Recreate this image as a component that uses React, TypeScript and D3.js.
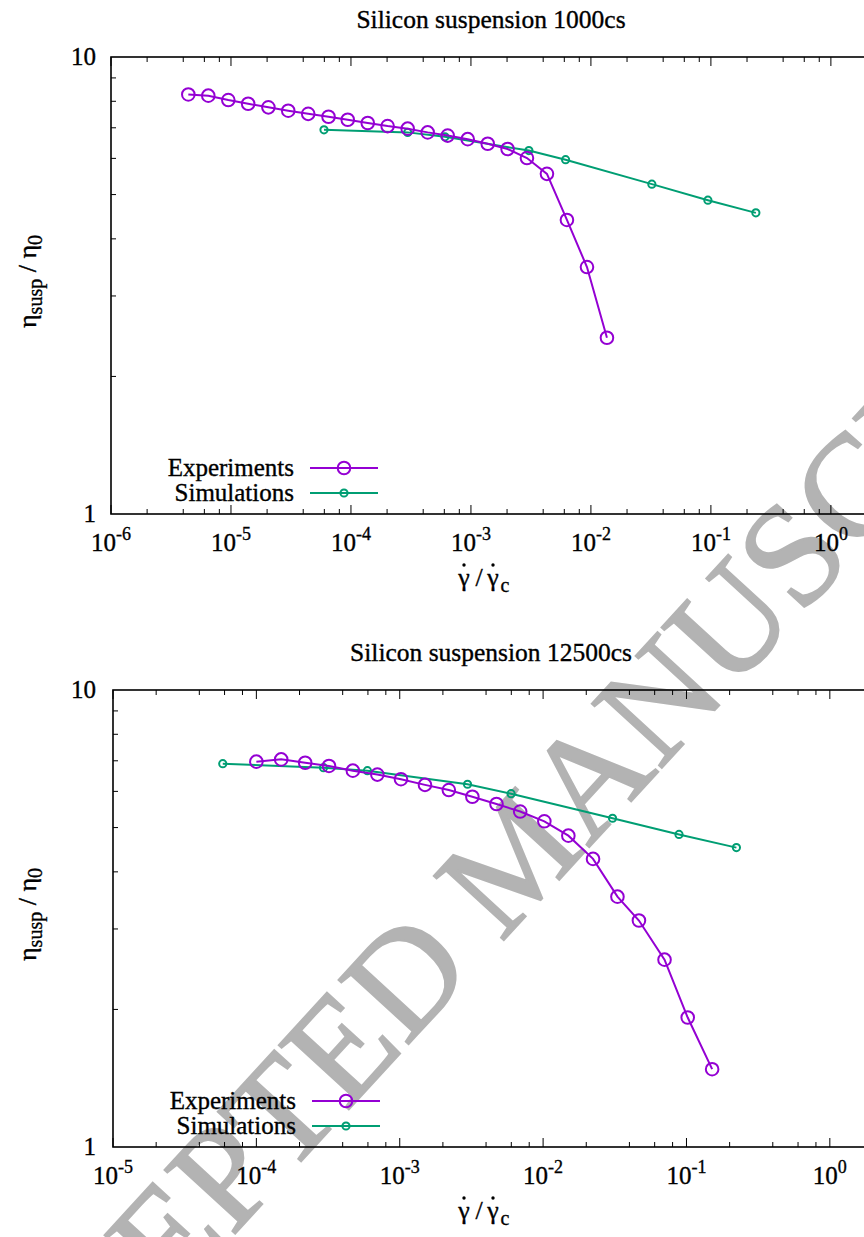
import React from "react";
import * as d3 from "d3";

// Silicon suspension 1000cs
const expX1 = [4.41e-6, 6.47e-6, 9.5e-6, 1.39e-5, 2.05e-5, 3.0e-5, 4.4e-5, 6.5e-5, 9.4e-5, 1.38e-4, 2.02e-4, 2.97e-4, 4.36e-4, 6.4e-4, 9.4e-4, 1.38e-3, 2.02e-3, 2.93e-3, 4.3e-3, 6.31e-3, 9.27e-3, 1.36e-2];
const expY1 = [8.28, 8.23, 8.05, 7.9, 7.76, 7.63, 7.51, 7.4, 7.29, 7.17, 7.06, 6.97, 6.84, 6.73, 6.61, 6.46, 6.29, 6.01, 5.55, 4.4, 3.47, 2.43];
const simX1 = [5.96e-5, 2.97e-4, 6.07e-4, 3.04e-3, 6.15e-3, 3.22e-2, 9.44e-2, 0.237];
const simY1 = [6.93, 6.84, 6.69, 6.24, 5.96, 5.27, 4.86, 4.56];

// Silicon suspension 12500cs
const expX2 = [1.0e-4, 1.49e-4, 2.19e-4, 3.21e-4, 4.71e-4, 6.98e-4, 1.02e-3, 1.5e-3, 2.2e-3, 3.21e-3, 4.73e-3, 6.92e-3, 1.02e-2, 1.5e-2, 2.23e-2, 3.3e-2, 4.66e-2, 7.03e-2, 0.102, 0.151];
const expY2 = [6.97, 7.05, 6.93, 6.82, 6.66, 6.53, 6.38, 6.2, 6.04, 5.84, 5.63, 5.42, 5.16, 4.8, 4.27, 3.53, 3.13, 2.57, 1.92, 1.48];
const simX2 = [5.83e-5, 2.94e-4, 5.95e-4, 2.97e-3, 5.98e-3, 3.05e-2, 8.87e-2, 0.223];
const simY2 = [6.9, 6.76, 6.66, 6.22, 5.93, 5.24, 4.83, 4.52];

const xExp1 = [-6, -5, -4, -3, -2, -1, 0];
const xExp2 = [-5, -4, -3, -2, -1, 0];
const yTickLabels = [1, 10];
const legendLabels = ["Experiments", "Simulations"];

const PURPLE = "#9400d3";
const GREEN = "#009e73";
const FONT = "Liberation Serif";

const panels = [
  { title: "Silicon suspension 1000cs", left: 111, top: 57, width: 756, xDomain: [1e-6, 2], xExp: xExp1, expX: expX1, expY: expY1, simX: simX1, simY: simY1 },
  { title: "Silicon suspension 12500cs", left: 113, top: 690, width: 760, xDomain: [1e-5, 2], xExp: xExp2, expX: expX2, expY: expY2, simX: simX2, simY: simY2 },
];

const plotH = 457;
// text is drawn a little heavier, like the original raster
const ink = { fill: "#000", stroke: "#000", strokeWidth: 0.35 };

function Panel({ p }) {
  const x = d3.scaleLog().domain(p.xDomain).range([p.left, p.left + p.width]);
  const y = d3.scaleLog().domain([1, 10]).range([p.top + plotH, p.top]);
  const bottom = p.top + plotH;

  const xMinor = [];
  p.xExp.concat([p.xExp[0] - 1]).forEach(e => {
    [2, 4, 6, 8].forEach(m => {
      const v = m * Math.pow(10, e);
      if (v > p.xDomain[0] && v < p.xDomain[1]) xMinor.push(v);
    });
  });
  const yMinor = d3.range(2, 10);

  const line = d3.line().x(d => x(d[0])).y(d => y(d[1]));
  const expPts = p.expX.map((v, i) => [v, p.expY[i]]);
  const simPts = p.simX.map((v, i) => [v, p.simY[i]]);
  const lx = 485; // x label centre
  const ly = bottom + 72;

  return (
    <g>
      <text {...ink} x={491} y={p.top - 29} textAnchor="middle" fontSize={25.5}>{p.title}</text>

      {/* ticks */}
      {p.xExp.map(e => {
        const px = x(Math.pow(10, e));
        return (
          <g key={"xt" + e}>
            <line x1={px} x2={px} y1={bottom} y2={bottom - 9} stroke="#000" strokeWidth={1} />
            <line x1={px} x2={px} y1={p.top} y2={p.top + 9} stroke="#000" strokeWidth={1} />
            <text {...ink} x={px} y={bottom + 37} textAnchor="middle" fontSize={25}>
              10<tspan dy={-11} fontSize={18}>{e}</tspan>
            </text>
          </g>
        );
      })}
      {xMinor.map((v, i) => (
        <g key={"xm" + i}>
          <line x1={x(v)} x2={x(v)} y1={bottom} y2={bottom - 5} stroke="#000" strokeWidth={1} />
          <line x1={x(v)} x2={x(v)} y1={p.top} y2={p.top + 5} stroke="#000" strokeWidth={1} />
        </g>
      ))}
      {yMinor.map(v => (
        <line key={"ym" + v} x1={p.left} x2={p.left + 5} y1={y(v)} y2={y(v)} stroke="#000" strokeWidth={1} />
      ))}
      {yTickLabels.map(v => (
        <text {...ink} key={"yl" + v} x={96} y={y(v) + 8} textAnchor="end" fontSize={25}>{v}</text>
      ))}

      {/* frame */}
      <rect x={p.left} y={p.top} width={p.width} height={plotH} fill="none" stroke="#000" strokeWidth={1.6} />

      {/* axis labels */}
      <text {...ink} transform={`translate(36,${p.top + plotH / 2 - 4}) rotate(-90)`} textAnchor="middle" fontSize={26}>
        η<tspan dy={6} fontSize={20}>susp</tspan><tspan dy={-6}> / η</tspan><tspan dy={6} fontSize={20}>0</tspan>
      </text>
      <text {...ink} x={lx - 21} y={ly} textAnchor="middle" fontSize={26}>γ</text>
      <text {...ink} x={lx - 6} y={ly} textAnchor="middle" fontSize={26}>/</text>
      <text {...ink} x={lx + 8} y={ly} textAnchor="middle" fontSize={26}>γ</text>
      <text {...ink} x={lx + 20} y={ly + 6} textAnchor="middle" fontSize={20}>c</text>
      <circle cx={lx - 21} cy={ly - 21} r={1.7} fill="#000" />
      <circle cx={lx + 8} cy={ly - 21} r={1.7} fill="#000" />

      {/* data */}
      <path d={line(simPts)} fill="none" stroke={GREEN} strokeWidth={2} />
      {simPts.map((d, i) => (
        <circle key={"s" + i} cx={x(d[0])} cy={y(d[1])} r={3.6} fill="none" stroke={GREEN} strokeWidth={2} />
      ))}
      <path d={line(expPts)} fill="none" stroke={PURPLE} strokeWidth={2} />
      {expPts.map((d, i) => (
        <circle key={"e" + i} cx={x(d[0])} cy={y(d[1])} r={6.3} fill="none" stroke={PURPLE} strokeWidth={2} />
      ))}

      {/* legend */}
      {legendLabels.map((lab, i) => {
        const ky = bottom - 46 + i * 25;
        const col = i === 0 ? PURPLE : GREEN;
        return (
          <g key={lab}>
            <text {...ink} x={p.left + 183} y={ky + 8} textAnchor="end" fontSize={25}>{lab}</text>
            <line x1={p.left + 199} x2={p.left + 267} y1={ky} y2={ky} stroke={col} strokeWidth={2} />
            <circle cx={p.left + 233} cy={ky} r={i === 0 ? 6.3 : 3.6} fill="none" stroke={col} strokeWidth={2} />
          </g>
        );
      })}
    </g>
  );
}

export default function App() {
  return (
    <svg width={864} height={1237} style={{ position: "absolute", left: 0, top: 0, background: "#fff", fontFamily: FONT }}>
      <rect width={864} height={1237} fill="#fff" />
      <text transform="translate(514,854) rotate(-47.5)" textAnchor="middle" dy="0.35em" fontSize={145}
        fill="#b3b3b3" stroke="#b3b3b3" strokeWidth={2}>
        ACCEPTED MANUSCRIPT
      </text>
      {panels.map(p => <Panel key={p.title} p={p} />)}
    </svg>
  );
}
